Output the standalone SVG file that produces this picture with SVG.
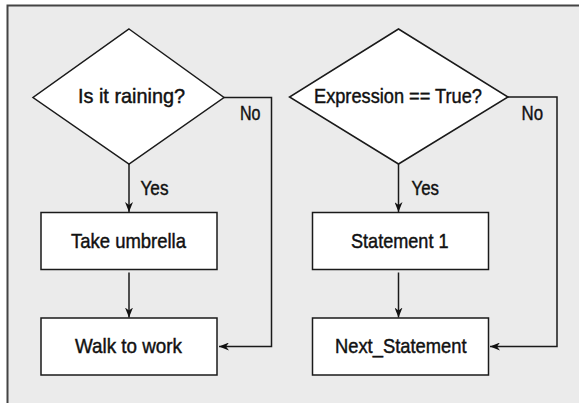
<svg xmlns="http://www.w3.org/2000/svg" width="579" height="403" viewBox="0 0 579 403">
  <defs>
    <marker id="arrow" viewBox="0 0 10 8" refX="10" refY="4" markerWidth="10" markerHeight="8" markerUnits="userSpaceOnUse" orient="auto">
      <path d="M0,0 L10,4 L0,8 L3,4 z" fill="#111"/>
    </marker>
  </defs>
  <style>
    .node { fill: #ffffff; stroke: #1a1a1a; stroke-width: 1.5; }
    .lbl { font-family: "Liberation Sans", Arial, sans-serif; font-size: 21px; fill: #111; stroke: #111; stroke-width: 0.45; }
    .edge { fill: none; stroke: #1a1a1a; stroke-width: 1.5; }
  </style>

  <!-- background panel -->
  <rect x="7.5" y="5.5" width="600" height="420" fill="#ebebeb" stroke="#444" stroke-width="2"/>

  <!-- left flow -->
  <g id="decision-raining">
    <polygon class="node" points="129,29 224,97.5 129,164 33,97.5"/>
    <text class="lbl" x="78" y="103" textLength="107" lengthAdjust="spacingAndGlyphs">Is it raining?</text>
  </g>
  <g id="take-umbrella">
    <rect class="node" x="41" y="212.5" width="176" height="57"/>
    <text class="lbl" x="71" y="248" textLength="115" lengthAdjust="spacingAndGlyphs">Take umbrella</text>
  </g>
  <g id="walk-to-work">
    <rect class="node" x="41" y="318" width="176" height="57"/>
    <text class="lbl" x="75" y="353" textLength="107" lengthAdjust="spacingAndGlyphs">Walk to work</text>
  </g>

  <!-- right flow -->
  <g id="decision-expression">
    <polygon class="node" points="398.5,29 508,97 398.5,164 289.5,97"/>
    <text class="lbl" x="314" y="103" textLength="168" lengthAdjust="spacingAndGlyphs">Expression == True?</text>
  </g>
  <g id="statement-1">
    <rect class="node" x="312.5" y="212.5" width="176" height="57"/>
    <text class="lbl" x="351" y="248" textLength="97.5" lengthAdjust="spacingAndGlyphs">Statement 1</text>
  </g>
  <g id="next-statement">
    <rect class="node" x="312.5" y="318" width="176" height="57"/>
    <text class="lbl" x="335" y="353" textLength="131.5" lengthAdjust="spacingAndGlyphs">Next_Statement</text>
  </g>

  <!-- connectors -->
  <g id="connectors">
    <path class="edge" d="M129,164 V212" marker-end="url(#arrow)"/>
    <path class="edge" d="M129,272.5 V317.5" marker-end="url(#arrow)"/>
    <path class="edge" d="M224,97.5 H271.5 V346.5 H219" marker-end="url(#arrow)"/>
    <text class="lbl" x="140.5" y="195" textLength="28" lengthAdjust="spacingAndGlyphs">Yes</text>
    <text class="lbl" x="240" y="120" textLength="20.5" lengthAdjust="spacingAndGlyphs">No</text>

    <path class="edge" d="M398.5,164 V212" marker-end="url(#arrow)"/>
    <path class="edge" d="M398.5,272.5 V317.5" marker-end="url(#arrow)"/>
    <path class="edge" d="M508,97 H557 V346.5 H490" marker-end="url(#arrow)"/>
    <text class="lbl" x="411.5" y="195" textLength="27.5" lengthAdjust="spacingAndGlyphs">Yes</text>
    <text class="lbl" x="521.5" y="120" textLength="21.5" lengthAdjust="spacingAndGlyphs">No</text>
  </g>
</svg>
